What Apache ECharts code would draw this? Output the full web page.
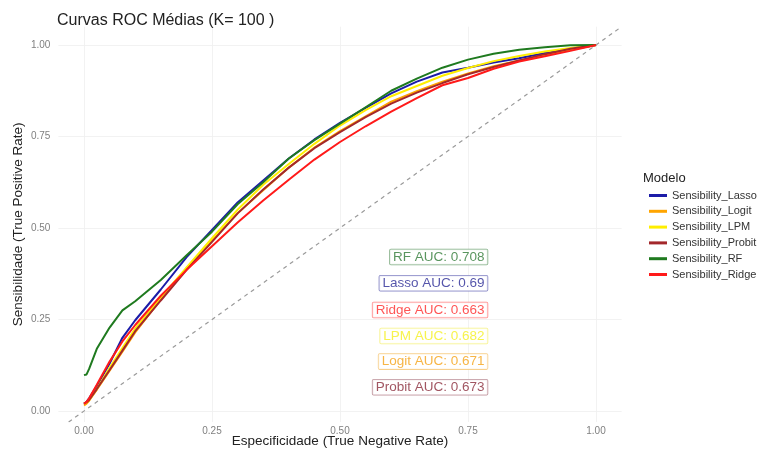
<!DOCTYPE html>
<html>
<head>
<meta charset="utf-8">
<script src="https://cdn.jsdelivr.net/npm/echarts@6/dist/echarts.min.js"></script>
<style>
  html, body { margin: 0; padding: 0; background: #fff; }
  #chart { width: 759px; height: 452px; }
</style>
</head>
<body>
<div id="chart"></div>
<script>
// False positive grid shared by every averaged ROC curve
const fpr = [0, 0.005, 0.01, 0.025, 0.05, 0.075, 0.1, 0.15, 0.2, 0.25, 0.3, 0.35, 0.4, 0.45, 0.5, 0.55, 0.6, 0.65, 0.7, 0.75, 0.8, 0.85, 0.9, 0.95, 1];

// Mean sensitivity for each model over the K = 100 resamples
const sensLasso  = [0.02, 0.025, 0.035, 0.068, 0.13, 0.2, 0.248, 0.332, 0.42, 0.495, 0.57, 0.63, 0.69, 0.742, 0.787, 0.828, 0.868, 0.9, 0.925, 0.938, 0.952, 0.964, 0.978, 0.988, 1];
const sensLogit  = [0.015, 0.02, 0.028, 0.058, 0.11, 0.162, 0.215, 0.305, 0.39, 0.465, 0.54, 0.603, 0.665, 0.72, 0.765, 0.805, 0.845, 0.874, 0.9, 0.922, 0.942, 0.958, 0.972, 0.987, 1];
const sensLPM    = [0.02, 0.024, 0.03, 0.06, 0.118, 0.172, 0.225, 0.31, 0.392, 0.472, 0.55, 0.618, 0.675, 0.73, 0.78, 0.822, 0.86, 0.888, 0.916, 0.937, 0.956, 0.97, 0.982, 0.992, 1];
const sensProbit = [0.02, 0.024, 0.03, 0.06, 0.112, 0.165, 0.218, 0.302, 0.385, 0.462, 0.54, 0.605, 0.665, 0.718, 0.762, 0.803, 0.84, 0.87, 0.896, 0.92, 0.94, 0.958, 0.975, 0.99, 1];
const sensRF     = [0.098, 0.1, 0.115, 0.17, 0.228, 0.275, 0.3, 0.358, 0.425, 0.49, 0.565, 0.625, 0.69, 0.74, 0.785, 0.83, 0.875, 0.908, 0.938, 0.96, 0.976, 0.987, 0.994, 0.999, 1];
const sensRidge  = [0.02, 0.025, 0.035, 0.072, 0.135, 0.19, 0.235, 0.315, 0.385, 0.45, 0.515, 0.575, 0.632, 0.687, 0.735, 0.778, 0.818, 0.855, 0.89, 0.91, 0.935, 0.955, 0.969, 0.984, 1];

// Legend entries (alphabetical, as in the legend box)
const seriesNames = ['Sensibility_Lasso', 'Sensibility_Logit', 'Sensibility_LPM', 'Sensibility_Probit', 'Sensibility_RF', 'Sensibility_Ridge'];

// Area under each mean curve
const aucModels = ['RF', 'Lasso', 'Ridge', 'LPM', 'Logit', 'Probit'];
const aucValues = [0.708, 0.69, 0.663, 0.682, 0.671, 0.673];

// Axis tick labels
const tickValues = [0, 0.25, 0.5, 0.75, 1];

// ---- styling / layout ----
const FONT = '"Liberation Sans", Arial, sans-serif';
const lineColors = {
  Sensibility_Lasso: '#1c1ca8',
  Sensibility_Logit: '#ffa500',
  Sensibility_LPM: '#ffee00',
  Sensibility_Probit: '#a3282b',
  Sensibility_RF: '#1f7a1f',
  Sensibility_Ridge: '#ff1a1a'
};
const aucStyle = {
  RF:     { text: '#2f7a36', border: '#6a9f6e' },
  Lasso:  { text: '#2b2b96', border: '#6a6ab8' },
  Ridge:  { text: '#ff2b2b', border: '#ff7070' },
  LPM:    { text: '#f5f020', border: '#f5f070' },
  Logit:  { text: '#f5a316', border: '#f5c470' },
  Probit: { text: '#8a2a3a', border: '#b07a84' }
};
// right edge and vertical centres of the AUC boxes, in data units
const aucBoxRight = 0.789;
const aucBoxRows = [0.421, 0.349, 0.276, 0.205, 0.135, 0.065];
// panel ranges (a little padding round the unit square)
const xMin = -0.05, yMin = -0.03, axisMax = 1.05;

const sensByName = {
  Sensibility_Lasso: sensLasso,
  Sensibility_Logit: sensLogit,
  Sensibility_LPM: sensLPM,
  Sensibility_Probit: sensProbit,
  Sensibility_RF: sensRF,
  Sensibility_Ridge: sensRidge
};

const rocSeries = seriesNames.map(name => ({
  name,
  type: 'line',
  symbol: 'none',
  smooth: false,
  data: fpr.map((x, i) => [x, sensByName[name][i]]),
  lineStyle: { color: lineColors[name], width: 2 },
  itemStyle: { color: lineColors[name] },
  z: 3
}));

// y = x reference, running across the panel
const chanceLine = {
  name: 'chance',
  type: 'line',
  symbol: 'none',
  silent: true,
  data: [[yMin, yMin], [axisMax, axisMax]],
  lineStyle: { color: '#9a9a9a', width: 1.2, type: [4, 4] },
  z: 2
};

const aucLabels = {
  name: 'auc',
  type: 'scatter',
  symbolSize: 1,
  silent: true,
  itemStyle: { color: 'transparent' },
  z: 5,
  data: aucModels.map((m, i) => ({
    value: [aucBoxRight, aucBoxRows[i]],
    label: {
      show: true,
      position: 'left',
      distance: 0,
      formatter: m + ' AUC: ' + aucValues[i],
      fontFamily: FONT,
      fontSize: 13.5,
      color: aucStyle[m].text,
      backgroundColor: '#ffffff',
      borderColor: aucStyle[m].border,
      borderWidth: 0.8,
      borderRadius: 1,
      padding: [1, 3, 0, 3]
    }
  }))
};

const axisCommon = {
  type: 'value',
  max: axisMax,
  axisLine: { show: false },
  axisTick: { show: false, customValues: tickValues },
  splitLine: { show: true, lineStyle: { color: '#efefef', width: 0.8 } },
  axisLabel: {
    customValues: tickValues,
    fontFamily: FONT,
    fontSize: 10,
    color: '#808080',
    formatter: v => v.toFixed(2)
  },
  nameLocation: 'middle',
  nameMoveOverlap: false,
  nameTextStyle: { fontFamily: FONT, fontSize: 13.5, color: '#222' }
};

const chart = echarts.init(document.getElementById('chart'), null, { renderer: 'canvas' });
chart.setOption({
  animation: false,
  backgroundColor: '#ffffff',
  title: [
    {
      text: 'Curvas ROC Médias (K= 100 )',
      left: 52,
      top: 8,
      textStyle: { fontFamily: FONT, fontSize: 16, fontWeight: 'normal', color: '#222' }
    },
    {
      text: 'Modelo',
      left: 638,
      top: 167,
      textStyle: { fontFamily: FONT, fontSize: 13, fontWeight: 'normal', color: '#222' }
    }
  ],
  grid: { left: 58.4, right: 137.4, top: 26.7, bottom: 30, outerBoundsMode: 'none', containLabel: false },
  xAxis: Object.assign({}, axisCommon, {
    min: xMin,
    name: 'Especificidade (True Negative Rate)',
    nameGap: 12,
    axisLabel: Object.assign({}, axisCommon.axisLabel, { margin: 4 })
  }),
  yAxis: Object.assign({}, axisCommon, {
    min: yMin,
    name: 'Sensibilidade (True Positive Rate)',
    nameGap: 33,
    axisLabel: Object.assign({}, axisCommon.axisLabel, { margin: 8 })
  }),
  legend: {
    data: seriesNames,
    orient: 'vertical',
    icon: 'rect',
    left: 644,
    top: 185,
    itemWidth: 18,
    itemHeight: 3,
    itemGap: 4.8,
    textStyle: { fontFamily: FONT, fontSize: 11, color: '#333' }
  },
  series: [chanceLine].concat(rocSeries, [aucLabels])
});
</script>
</body>
</html>
